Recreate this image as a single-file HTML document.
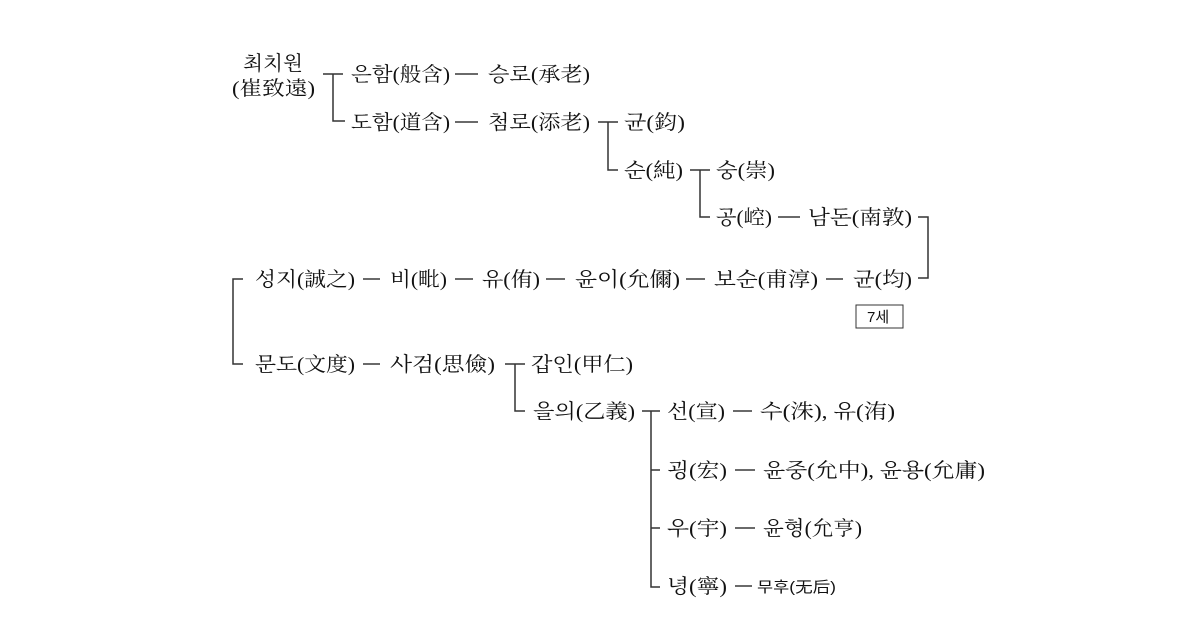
<!DOCTYPE html>
<html><head><meta charset="utf-8"><style>
body{margin:0;width:1200px;height:634px;background:#fff;overflow:hidden}
svg{position:absolute;left:0;top:0}
text{font-family:"Liberation Serif","Noto Serif CJK SC",serif;font-size:20px;fill:#111}
.s{font-family:"Liberation Sans","Noto Sans CJK KR",sans-serif;font-size:15px}
</style></head><body>
<svg width="1200" height="634">
<g stroke="#333" stroke-width="1.5" fill="none">
<path d="M323 74H343M333 74V121H345"/>
<path d="M598 122H618M608 122V170H618"/>
<path d="M690 170H710M700 170V217H710"/>
<path d="M918 217H928V278H918"/>
<path d="M243 279H233V364H243"/>
<path d="M505 364H525M515 364V411H525"/>
<path d="M642 411H660M651 411V587H660M651 470H660M651 528H660"/>
<rect x="856" y="305" width="47" height="23" stroke-width="1"/>
<path d="M455 74H478M455 122H478M778 217H800M363 279H380M455 279H473M546 279H565M686 279H705M826 279H843M363 364H380M733 411H752M735 470H755M735 528H755M735 586H752" stroke="#111" stroke-width="1.3"/>
</g>
<text x="243" y="70" textLength="60" lengthAdjust="spacingAndGlyphs">최치원</text>
<text x="232" y="95" textLength="83" lengthAdjust="spacingAndGlyphs">(崔致遠)</text>
<text x="351" y="81" textLength="99" lengthAdjust="spacingAndGlyphs">은함(般含)</text>
<text x="488" y="81" textLength="102" lengthAdjust="spacingAndGlyphs">승로(承老)</text>
<text x="351" y="129" textLength="99" lengthAdjust="spacingAndGlyphs">도함(道含)</text>
<text x="488" y="129" textLength="102" lengthAdjust="spacingAndGlyphs">첨로(添老)</text>
<text x="624" y="129" textLength="61" lengthAdjust="spacingAndGlyphs">균(鈞)</text>
<text x="624" y="177" textLength="59" lengthAdjust="spacingAndGlyphs">순(純)</text>
<text x="716" y="177" textLength="59" lengthAdjust="spacingAndGlyphs">숭(崇)</text>
<text x="716" y="224" textLength="56" lengthAdjust="spacingAndGlyphs">공(崆)</text>
<text x="808" y="224" textLength="104" lengthAdjust="spacingAndGlyphs">남돈(南敦)</text>
<text x="255" y="286" textLength="100" lengthAdjust="spacingAndGlyphs">성지(誠之)</text>
<text x="390" y="286" textLength="57" lengthAdjust="spacingAndGlyphs">비(毗)</text>
<text x="482" y="286" textLength="58" lengthAdjust="spacingAndGlyphs">유(侑)</text>
<text x="575" y="286" textLength="105" lengthAdjust="spacingAndGlyphs">윤이(允儞)</text>
<text x="714" y="286" textLength="104" lengthAdjust="spacingAndGlyphs">보순(甫淳)</text>
<text x="853" y="286" textLength="59" lengthAdjust="spacingAndGlyphs">균(均)</text>
<text class="s" x="867" y="322">7세</text>
<text x="255" y="371" textLength="100" lengthAdjust="spacingAndGlyphs">문도(文度)</text>
<text x="390" y="371" textLength="105" lengthAdjust="spacingAndGlyphs">사검(思儉)</text>
<text x="531" y="371" textLength="102" lengthAdjust="spacingAndGlyphs">갑인(甲仁)</text>
<text x="533" y="418" textLength="102" lengthAdjust="spacingAndGlyphs">을의(乙義)</text>
<text x="667" y="418" textLength="58" lengthAdjust="spacingAndGlyphs">선(宣)</text>
<text x="760" y="418" textLength="135" lengthAdjust="spacingAndGlyphs">수(洙), 유(洧)</text>
<text x="667" y="477" textLength="60" lengthAdjust="spacingAndGlyphs">굉(宏)</text>
<text x="763" y="477" textLength="222" lengthAdjust="spacingAndGlyphs">윤중(允中), 윤용(允庸)</text>
<text x="667" y="535" textLength="60" lengthAdjust="spacingAndGlyphs">우(宇)</text>
<text x="763" y="535" textLength="99" lengthAdjust="spacingAndGlyphs">윤형(允亨)</text>
<text x="667" y="593" textLength="60" lengthAdjust="spacingAndGlyphs">녕(寧)</text>
<text class="s" x="757" y="592" textLength="79" lengthAdjust="spacingAndGlyphs">무후(无后)</text>
</svg>
</body></html>
